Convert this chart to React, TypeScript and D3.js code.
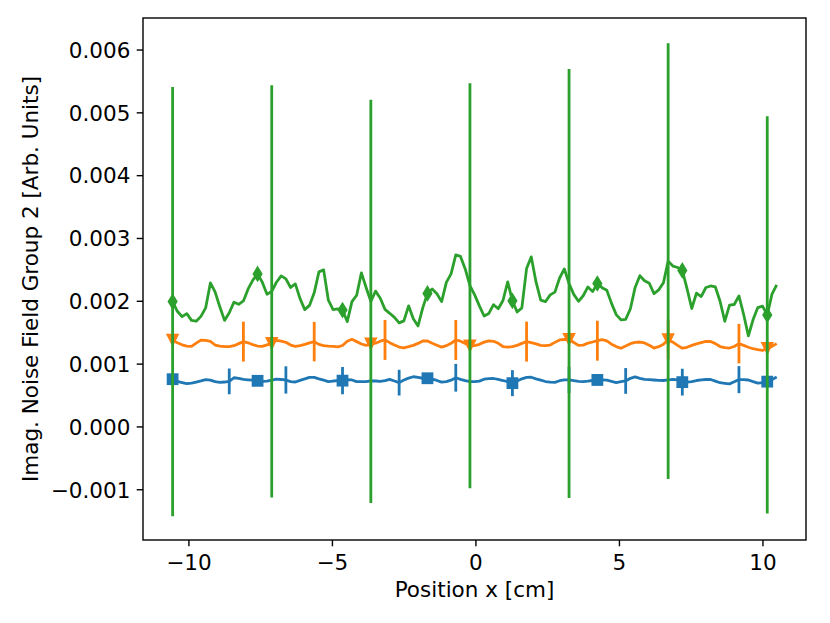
import { useEffect, useRef } from "react";
import * as d3 from "d3";

// sample grid along x (cm)
const X_START = -10.568;
const X_STEP = 0.16443;

const blueY = [
  0.000760, 0.000726, 0.000707, 0.000689, 0.000697, 0.000715, 0.000732, 0.000752, 0.000745, 0.000721,
  0.000709, 0.000715, 0.000725, 0.000783, 0.000772, 0.000756, 0.000750, 0.000744, 0.000734, 0.000726,
  0.000728, 0.000744, 0.000760, 0.000755, 0.000748, 0.000721, 0.000715, 0.000740, 0.000764, 0.000790,
  0.000788, 0.000764, 0.000744, 0.000721, 0.000731, 0.000737, 0.000737, 0.000752, 0.000748, 0.000721,
  0.000721, 0.000721, 0.000734, 0.000731, 0.000725, 0.000736, 0.000758, 0.000732, 0.000705, 0.000747,
  0.000777, 0.000799, 0.000788, 0.000775, 0.000775, 0.000760, 0.000740, 0.000713, 0.000720, 0.000744,
  0.000783, 0.000758, 0.000737, 0.000721, 0.000721, 0.000729, 0.000760, 0.000769, 0.000771, 0.000756,
  0.000739, 0.000720, 0.000697, 0.000731, 0.000766, 0.000788, 0.000791, 0.000766, 0.000744, 0.000723,
  0.000713, 0.000710, 0.000736, 0.000748, 0.000748, 0.000737, 0.000726, 0.000721, 0.000729, 0.000739,
  0.000748, 0.000748, 0.000745, 0.000725, 0.000707, 0.000721, 0.000732, 0.000774, 0.000796, 0.000774,
  0.000758, 0.000752, 0.000747, 0.000742, 0.000739, 0.000750, 0.000756, 0.000750, 0.000713, 0.000713,
  0.000723, 0.000739, 0.000750, 0.000755, 0.000755, 0.000729, 0.000704, 0.000694, 0.000685, 0.000718,
  0.000753, 0.000753, 0.000747, 0.000721, 0.000697, 0.000707, 0.000721, 0.000753, 0.000796,
];

const orangeY = [
  0.001385, 0.001339, 0.001307, 0.001287, 0.001282, 0.001333, 0.001382, 0.001379, 0.001363, 0.001304,
  0.001285, 0.001279, 0.001279, 0.001293, 0.001326, 0.001358, 0.001339, 0.001309, 0.001288, 0.001282,
  0.001306, 0.001330, 0.001377, 0.001366, 0.001347, 0.001303, 0.001283, 0.001293, 0.001314, 0.001339,
  0.001358, 0.001314, 0.001296, 0.001288, 0.001282, 0.001274, 0.001296, 0.001363, 0.001395, 0.001358,
  0.001320, 0.001299, 0.001322, 0.001333, 0.001365, 0.001385, 0.001342, 0.001304, 0.001272, 0.001260,
  0.001277, 0.001299, 0.001330, 0.001368, 0.001368, 0.001331, 0.001301, 0.001271, 0.001293, 0.001331,
  0.001384, 0.001365, 0.001330, 0.001293, 0.001293, 0.001315, 0.001350, 0.001371, 0.001363, 0.001331,
  0.001280, 0.001272, 0.001277, 0.001299, 0.001330, 0.001358, 0.001342, 0.001322, 0.001298, 0.001295,
  0.001304, 0.001346, 0.001385, 0.001392, 0.001396, 0.001344, 0.001299, 0.001303, 0.001334, 0.001352,
  0.001373, 0.001389, 0.001369, 0.001317, 0.001279, 0.001253, 0.001287, 0.001326, 0.001347, 0.001352,
  0.001338, 0.001301, 0.001256, 0.001277, 0.001317, 0.001392, 0.001349, 0.001299, 0.001253, 0.001268,
  0.001298, 0.001323, 0.001342, 0.001361, 0.001360, 0.001326, 0.001280, 0.001263, 0.001256, 0.001280,
  0.001326, 0.001299, 0.001269, 0.001245, 0.001229, 0.001217, 0.001253, 0.001283, 0.001326,
];

const greenY = [
  0.001995, 0.001841, 0.001755, 0.001803, 0.001696, 0.001683, 0.001760, 0.001895, 0.002293, 0.002151,
  0.001912, 0.001696, 0.001818, 0.001986, 0.001952, 0.002006, 0.002197, 0.002336, 0.002436, 0.002304,
  0.002113, 0.002158, 0.002303, 0.002404, 0.002357, 0.002220, 0.002277, 0.002043, 0.001868, 0.001935,
  0.002135, 0.002468, 0.002500, 0.002018, 0.001869, 0.001879, 0.001860, 0.001677, 0.001994, 0.002096,
  0.002452, 0.002220, 0.001998, 0.002162, 0.002049, 0.001871, 0.001809, 0.001744, 0.001656, 0.001688,
  0.001928, 0.001721, 0.001608, 0.001895, 0.002126, 0.002196, 0.002121, 0.001995, 0.002301, 0.002436,
  0.002739, 0.002715, 0.002516, 0.002248, 0.002102, 0.001927, 0.001766, 0.001807, 0.001946, 0.001882,
  0.002013, 0.002309, 0.002008, 0.001830, 0.001896, 0.002521, 0.002707, 0.002309, 0.002018, 0.001994,
  0.002102, 0.002146, 0.002371, 0.002516, 0.002283, 0.002110, 0.002000, 0.002088, 0.002229, 0.002154,
  0.002283, 0.002217, 0.002175, 0.001967, 0.001788, 0.001705, 0.001713, 0.001882, 0.002221, 0.002408,
  0.002328, 0.002288, 0.002123, 0.002182, 0.002295, 0.002640, 0.002561, 0.002538, 0.002492, 0.002202,
  0.001885, 0.002131, 0.002076, 0.002220, 0.002244, 0.002228, 0.002000, 0.001682, 0.001939, 0.001949,
  0.002086, 0.001790, 0.001449, 0.001709, 0.001900, 0.001924, 0.001783, 0.002113, 0.002261,
];

// half-lengths of the error bars, one per drawn bar
const blueErr = [0.000205, 0.000217, 0.000217, 0.000205, 0.000221, 0.000207, 0.000210, 0.000205, 0.000213, 0.000215];
const orangeErr = [0.000318, 0.000314, 0.000318, 0.000318, 0.000318, 0.000318, 0.000316, 0.000314];
const greenErr = [0.003416, 0.003280, 0.003209, 0.003225, 0.003416, 0.003470, 0.003161];

const xTicks = [-10, -5, 0, 5, 10];
const yTicks = [-0.001, 0, 0.001, 0.002, 0.003, 0.004, 0.005, 0.006];

const series = [
  { color: "#1f77b4", y: blueY, err: blueErr, errStart: 12, errEvery: 12, markEvery: 18, marker: "square" },
  { color: "#ff7f0e", y: orangeY, err: orangeErr, errStart: 15, errEvery: 15, markEvery: 21, marker: "tri" },
  { color: "#2ca02c", y: greenY, err: greenErr, errStart: 0, errEvery: 21, markEvery: 18, marker: "diamond" },
];

const W = 830, H = 623;
const L = 143, R = 806, T = 18, B = 540;
const FONT = "'DejaVu Sans', sans-serif";
const FS = 21.5;
const LW = 2.8;
const minus = (s: string) => s.replace("-", "\u2212");

export default function App() {
  const svgRef = useRef<SVGSVGElement>(null);

  useEffect(() => {
    if (!svgRef.current) return;
    const svg = d3.select(svgRef.current);
    svg.selectAll("*").remove();

    const x = d3.scaleLinear().domain([-11.6, 11.5]).range([L, R]);
    const y = d3.scaleLinear().domain([-0.0018, 0.00651]).range([B, T]);
    const xAt = (i: number) => X_START + i * X_STEP;

    svg.append("rect").attr("width", W).attr("height", H).attr("fill", "#fff");

    const plot = svg.append("g");

    series.forEach((s) => {
      const line = d3.line<number>()
        .x((_, i) => x(xAt(i)))
        .y((d) => y(d));
      plot.append("path")
        .attr("d", line(s.y))
        .attr("fill", "none")
        .attr("stroke", s.color)
        .attr("stroke-width", LW)
        .attr("stroke-linejoin", "round");

      // markers
      const mk = plot.append("g").attr("fill", s.color).attr("stroke", s.color).attr("stroke-width", 1.4);
      for (let i = 0; i < s.y.length; i += s.markEvery) {
        const cx = x(xAt(i)), cy = y(s.y[i]);
        if (s.marker === "square") {
          mk.append("rect").attr("x", cx - 5.2).attr("y", cy - 5.2).attr("width", 10.4).attr("height", 10.4);
        } else if (s.marker === "tri") {
          mk.append("path").attr("d", `M${cx - 5.6},${cy - 5.6}L${cx + 5.6},${cy - 5.6}L${cx},${cy + 5.6}Z`);
        } else {
          mk.append("path").attr("d", `M${cx},${cy - 7}L${cx + 4.3},${cy}L${cx},${cy + 7}L${cx - 4.3},${cy}Z`);
        }
      }

      // error bars, no caps
      s.err.forEach((e, k) => {
        const i = s.errStart + k * s.errEvery;
        const cx = x(xAt(i));
        plot.append("line")
          .attr("x1", cx).attr("x2", cx)
          .attr("y1", y(s.y[i] - e)).attr("y2", y(s.y[i] + e))
          .attr("stroke", s.color)
          .attr("stroke-width", LW);
      });
    });

    // frame
    svg.append("rect")
      .attr("x", L).attr("y", T).attr("width", R - L).attr("height", B - T)
      .attr("fill", "none").attr("stroke", "#000").attr("stroke-width", 1.4);

    // x ticks
    const gx = svg.append("g");
    xTicks.forEach((t) => {
      const px = x(t);
      gx.append("line").attr("x1", px).attr("x2", px).attr("y1", B).attr("y2", B + 6.3)
        .attr("stroke", "#000").attr("stroke-width", 1.4);
      gx.append("text").attr("x", px).attr("y", B + 30)
        .attr("text-anchor", "middle").attr("font-family", FONT).attr("font-size", FS)
        .text(minus(String(t)));
    });

    // y ticks
    const gy = svg.append("g");
    const fmt = d3.format(".3f");
    yTicks.forEach((t) => {
      const py = y(t);
      gy.append("line").attr("x1", L - 6.3).attr("x2", L).attr("y1", py).attr("y2", py)
        .attr("stroke", "#000").attr("stroke-width", 1.4);
      gy.append("text").attr("x", L - 12.6).attr("y", py + 7.8)
        .attr("text-anchor", "end").attr("font-family", FONT).attr("font-size", FS)
        .text(minus(fmt(t)));
    });

    svg.append("text")
      .attr("x", (L + R) / 2).attr("y", 597)
      .attr("text-anchor", "middle").attr("font-family", FONT).attr("font-size", FS)
      .text("Position x [cm]");

    svg.append("text")
      .attr("transform", `translate(38,${(T + B) / 2}) rotate(-90)`)
      .attr("text-anchor", "middle").attr("font-family", FONT).attr("font-size", FS)
      .text("Imag. Noise Field Group 2 [Arb. Units]");
  }, []);

  return (
    <svg
      ref={svgRef}
      width={W}
      height={H}
      style={{ position: "absolute", left: 0, top: 0, display: "block" }}
    />
  );
}
